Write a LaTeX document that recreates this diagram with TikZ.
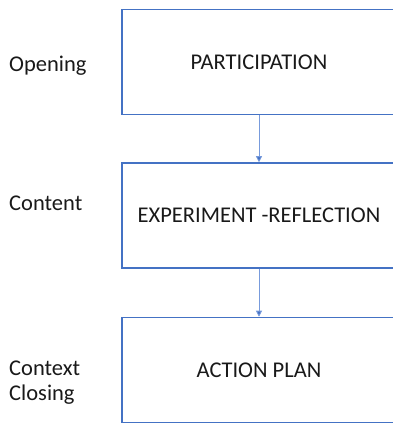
\documentclass[tikz,border=0pt]{standalone}
\usepackage{fontspec}
\setmainfont{Carlito}
\usetikzlibrary{arrows.meta}
\definecolor{boxblue}{RGB}{68,114,196}
\definecolor{arrblue}{RGB}{120,155,220}
\begin{document}
\begin{tikzpicture}[x=1pt,y=1pt,
  stagebox/.style={draw=boxblue,line width=1.5pt,minimum width=274pt,minimum height=105pt,inner sep=0pt,font=\fontsize{22.5}{27}\selectfont,text=black!90},
  sidelabel/.style={anchor=west,align=left,inner sep=0pt,font=\fontsize{22.5}{25}\selectfont,text=black!90},
  flow/.style={draw=arrblue,line width=0.8pt,-{Triangle[length=6pt,width=6pt,fill=boxblue]}}]
\useasboundingbox (0,0) rectangle (393,423);
\clip (0,0) rectangle (393,423);
\node[stagebox] (p) at (259,360.75) {PARTICIPATION};
\node[stagebox] (e) at (259,207.5) {EXPERIMENT -REFLECTION};
\node[stagebox] (a) at (259,53) {ACTION PLAN};
\draw[flow] (p.south) -- (e.north);
\draw[flow] (e.south) -- (a.north);
\node[sidelabel] (l1) at (9,357) {Opening};
\node[sidelabel] (l2) at (9,220) {Content};
\node[sidelabel] (l3) at (9,40) {Context\\Closing};
\end{tikzpicture}
\end{document}
